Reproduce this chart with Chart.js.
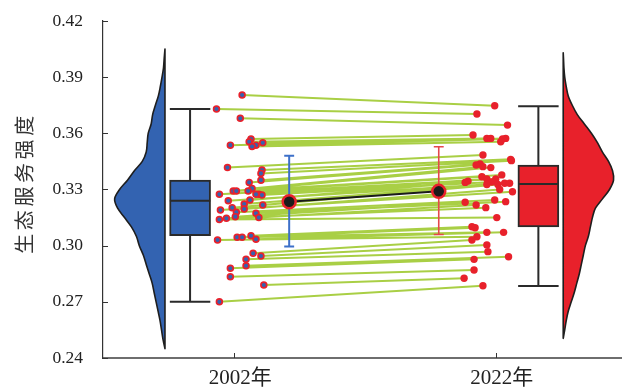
<!DOCTYPE html>
<html><head><meta charset="utf-8">
<script src="https://cdn.jsdelivr.net/npm/chart.js@4.4.1/dist/chart.umd.min.js"></script>
<style>html,body{margin:0;padding:0;background:#fff}canvas{display:block}</style>
</head><body>
<canvas id="c" width="630" height="390"></canvas>
<script>
// ---------- data ----------
const categories = ['2002年', '2022年'];
const yTicks = [0.24, 0.27, 0.30, 0.33, 0.36, 0.39, 0.42];
const yTitle = '生态服务强度';

// paired samples (sorted, same index = same unit)
const v2002 = [0.3805,0.373,0.368,0.357,0.3555,0.355,0.3537,0.3537,0.353,0.3417,0.3404,0.3386,0.335,0.3338,0.3306,0.3292,0.3292,0.3292,0.3275,0.3274,0.3274,0.327,0.3244,0.324,0.3222,0.3217,0.3203,0.3196,0.319,0.3178,0.3173,0.3155,0.315,0.3146,0.314,0.3053,0.3045,0.3045,0.3034,0.303,0.2959,0.2945,0.2927,0.2893,0.2879,0.2834,0.279,0.270];
const jit2002 = [0.030,-0.068,0.023,0.064,0.057,0.109,-0.015,0.083,0.068,-0.026,0.106,0.102,0.102,0.057,0.068,-0.004,0.008,0.053,0.094,-0.057,0.083,0.106,0.060,-0.023,0.038,0.109,-0.008,0.038,-0.053,0.008,0.083,0.004,0.094,-0.030,-0.057,0.064,0.011,0.030,0.083,-0.064,0.072,0.102,0.045,0.045,-0.015,-0.015,0.113,-0.057];
const v2022 = [0.3747,0.3703,0.3644,0.3591,0.3573,0.3573,0.3573,0.357,0.3555,0.3484,0.3461,0.3454,0.3436,0.3431,0.3422,0.3417,0.3378,0.3368,0.3356,0.3356,0.3345,0.334,0.3338,0.3333,0.3333,0.3327,0.3327,0.330,0.3288,0.3244,0.3235,0.3232,0.3217,0.3203,0.315,0.3101,0.3096,0.3071,0.3071,0.3048,0.303,0.3004,0.2968,0.2941,0.2927,0.287,0.2826,0.2786];
const jit2022 = [-0.004,-0.072,0.045,-0.087,-0.034,-0.019,0.038,0.026,0.019,-0.049,0.057,0.060,-0.060,-0.075,-0.049,-0.019,0.023,-0.053,-0.034,0.000,-0.106,-0.015,-0.117,0.034,0.053,-0.034,0.008,0.015,0.064,-0.004,0.038,-0.117,-0.075,-0.038,0.004,-0.091,-0.079,-0.034,0.030,-0.072,-0.091,-0.034,-0.030,0.049,-0.083,-0.083,-0.121,-0.049];

// box plot statistics [2002, 2022]
const boxQ1   = [0.3053, 0.310];
const boxMed  = [0.324, 0.333];
const boxQ3   = [0.335, 0.343];
const whiskLo = [0.270, 0.2785];
const whiskHi = [0.373, 0.3745];

// mean and error bar [2002, 2022]
const meanVal = [0.3235, 0.329];
const errLo   = [0.2995, 0.306];
const errHi   = [0.348, 0.3528];

// half-violin density outlines
const blueLevels  = [0.245,0.25,0.255,0.26,0.265,0.27,0.275,0.28,0.285,0.29,0.295,0.30,0.305,0.31,0.315,0.32,0.325,0.33,0.335,0.34,0.345,0.35,0.355,0.36,0.365,0.37,0.375,0.38,0.385,0.39,0.395,0.40,0.405];
const blueDensity = [0,2,3.5,5,7,9,11,13,16,19,22,26,29,34,41,48,51,46,38,31,23,19,18,17,14,12.5,9.7,6.7,4.7,3,1.5,0.8,0];
const redLevels   = [0.2505,0.255,0.26,0.265,0.27,0.275,0.28,0.285,0.29,0.295,0.30,0.305,0.31,0.315,0.32,0.325,0.33,0.335,0.34,0.345,0.35,0.355,0.36,0.365,0.37,0.375,0.38,0.385,0.39,0.395,0.40,0.403];
const redDensity  = [0,1.5,3,5,8,11,13.5,16,18,20,22,25,27,29,32,39,46,50,49,45,39,34,28,21,14,9,5,3,1.5,0.7,0.3,0];

// ---------- layout / style ----------
const catPos = [0, 1];
const XMIN = -0.502, XMAX = 1.479;
const OFF = { violin: [-0.265, 0.258], box: [-0.169, 0.163], mean: [0.210, -0.218] };
const VIOLIN_W = 0.1925, BOX_HALF = 0.0774, CAP_HALF = 0.019;
const BLUE = '#3363b1', RED = '#e8212b', DARK = '#2a2a2a', GREEN = '#a9cf45';
const SERIF = '"Liberation Serif","Noto Sans CJK SC",serif';

Chart.defaults.font.family = SERIF;
Chart.defaults.color = '#222';

function segs(list) {
  const out = [];
  list.forEach((s, i) => { if (i) out.push({ x: null, y: null }); out.push(...s); });
  return out;
}

const pairLines = segs(v2002.map((v, i) => [
  { x: catPos[0] + jit2002[i], y: v },
  { x: catPos[1] + jit2022[i], y: v2022[i] }
]));

const whiskerSegs = [];
[0, 1].forEach(k => {
  const cx = catPos[k] + OFF.box[k];
  whiskerSegs.push([{ x: cx, y: boxQ3[k] }, { x: cx, y: whiskHi[k] }]);
  whiskerSegs.push([{ x: cx - BOX_HALF, y: whiskHi[k] }, { x: cx + BOX_HALF, y: whiskHi[k] }]);
  whiskerSegs.push([{ x: cx, y: boxQ1[k] }, { x: cx, y: whiskLo[k] }]);
  whiskerSegs.push([{ x: cx - BOX_HALF, y: whiskLo[k] }, { x: cx + BOX_HALF, y: whiskLo[k] }]);
  whiskerSegs.push([{ x: cx - BOX_HALF, y: boxMed[k] }, { x: cx + BOX_HALF, y: boxMed[k] }]);
});

function errSegs(k) {
  const cx = catPos[k] + OFF.mean[k];
  return segs([
    [{ x: cx, y: errLo[k] }, { x: cx, y: errHi[k] }],
    [{ x: cx - CAP_HALF, y: errHi[k] }, { x: cx + CAP_HALF, y: errHi[k] }],
    [{ x: cx - CAP_HALF, y: errLo[k] }, { x: cx + CAP_HALF, y: errLo[k] }]
  ]);
}

const violinPlugin = {
  id: 'violin',
  beforeDatasetsDraw(chart) {
    const { ctx, scales: { x, y } } = chart;
    const draw = (base, levels, dens, color, dir) => {
      const maxD = Math.max(...dens);
      const bx = x.getPixelForValue(base);
      const wpx = x.getPixelForValue(base + VIOLIN_W) - bx;
      const pts = levels.map((l, i) => ({ px: bx + dir * dens[i] / maxD * wpx, py: y.getPixelForValue(l) }));
      ctx.save();
      ctx.beginPath();
      ctx.moveTo(pts[0].px, pts[0].py);
      for (let i = 0; i < pts.length - 1; i++) {
        const p0 = pts[Math.max(i - 1, 0)], p1 = pts[i], p2 = pts[i + 1], p3 = pts[Math.min(i + 2, pts.length - 1)];
        const t = 1 / 6;
        ctx.bezierCurveTo(p1.px + (p2.px - p0.px) * t, p1.py + (p2.py - p0.py) * t,
                          p2.px - (p3.px - p1.px) * t, p2.py - (p3.py - p1.py) * t, p2.px, p2.py);
      }
      ctx.closePath();
      ctx.fillStyle = color;
      ctx.fill();
      ctx.lineWidth = 1.6;
      ctx.strokeStyle = '#1e1e1e';
      ctx.lineJoin = 'round';
      ctx.stroke();
      ctx.restore();
    };
    draw(catPos[0] + OFF.violin[0], blueLevels, blueDensity, BLUE, -1);
    draw(catPos[1] + OFF.violin[1], redLevels, redDensity, RED, 1);
  }
};

const axisDecor = {
  id: 'axisDecor',
  afterDraw(chart) {
    const { ctx, chartArea: a, scales: { x, y } } = chart;
    ctx.save();
    ctx.strokeStyle = '#333';
    ctx.lineWidth = 1;
    yTicks.forEach(v => {
      const py = Math.round(y.getPixelForValue(v)) + 0.5;
      ctx.beginPath(); ctx.moveTo(a.left, py); ctx.lineTo(a.left + 5, py); ctx.stroke();
    });
    catPos.forEach(v => {
      const px = Math.round(x.getPixelForValue(v)) + 0.5;
      ctx.beginPath(); ctx.moveTo(px, a.bottom); ctx.lineTo(px, a.bottom - 5); ctx.stroke();
    });
    // y axis title
    ctx.translate(24, 183);
    ctx.rotate(-Math.PI / 2);
    ctx.font = '20px "Noto Sans CJK SC"';
    if ('letterSpacing' in ctx) ctx.letterSpacing = '3.6px';
    ctx.fillStyle = '#333';
    ctx.textAlign = 'center';
    ctx.textBaseline = 'middle';
    ctx.fillText(yTitle, 0, 0);
    ctx.restore();
  }
};

new Chart(document.getElementById('c'), {
  type: 'scatter',
  data: {
    datasets: [
      { // mean markers
        type: 'scatter', order: 1,
        data: [0, 1].map(k => ({ x: catPos[k] + OFF.mean[k], y: meanVal[k] })),
        pointRadius: 6.5, pointBorderWidth: 2.5, pointBorderColor: RED, pointBackgroundColor: '#1b1b1b'
      },
      { // line joining means
        type: 'scatter', order: 2, showLine: true,
        data: [0, 1].map(k => ({ x: catPos[k] + OFF.mean[k], y: meanVal[k] })),
        borderColor: '#1b1b1b', borderWidth: 2, pointRadius: 0
      },
      { type: 'scatter', order: 3, showLine: true, data: errSegs(0), borderColor: '#3d70c9', borderWidth: 2, pointRadius: 0 },
      { type: 'scatter', order: 3, showLine: true, data: errSegs(1), borderColor: '#e5474b', borderWidth: 1.6, pointRadius: 0 },
      { // 2002 samples
        type: 'scatter', order: 4,
        data: v2002.map((v, i) => ({ x: catPos[0] + jit2002[i], y: v })),
        pointRadius: 2.9, pointBorderWidth: 1.7, pointBorderColor: RED, pointBackgroundColor: BLUE
      },
      { // 2022 samples
        type: 'scatter', order: 4,
        data: v2022.map((v, i) => ({ x: catPos[1] + jit2022[i], y: v })),
        pointRadius: 3.7, pointBorderWidth: 0, pointBackgroundColor: RED
      },
      { // paired lines
        type: 'scatter', order: 5, showLine: true, data: pairLines,
        borderColor: GREEN, borderWidth: 2, pointRadius: 0
      },
      { // whiskers + medians
        type: 'scatter', order: 6, showLine: true, data: segs(whiskerSegs),
        borderColor: DARK, borderWidth: 2, pointRadius: 0
      },
      { // boxes
        type: 'bar', order: 7,
        data: [0, 1].map(k => ({ x: catPos[k] + OFF.box[k], y: [boxQ1[k], boxQ3[k]] })),
        backgroundColor: [BLUE, RED], borderColor: DARK, borderWidth: 2, borderSkipped: false,
        barThickness: 41, grouped: false
      }
    ]
  },
  options: {
    responsive: false,
    devicePixelRatio: 1,
    animation: false,
    layout: { padding: { top: 21, right: 2, left: 0, bottom: 0 } },
    plugins: { legend: { display: false }, tooltip: { enabled: false } },
    elements: { line: { tension: 0 } },
    scales: {
      x: {
        type: 'linear', min: XMIN, max: XMAX, offset: false,
        afterBuildTicks: ax => { ax.ticks = catPos.map(v => ({ value: v })); },
        ticks: { callback: v => categories[Math.round(v)], font: { size: 21, family: SERIF }, color: '#222', padding: 8, labelOffset: 6, maxRotation: 0, autoSkip: false },
        grid: { drawOnChartArea: false, drawTicks: false, offset: false },
        border: { color: '#6e6e6e', width: 2 },
        afterFit: s => { s.height = 32; s.paddingLeft = 0; s.paddingRight = 0; }
      },
      y: {
        type: 'linear', min: 0.24, max: 0.42,
        afterBuildTicks: ax => { ax.ticks = yTicks.map(v => ({ value: v })); },
        ticks: { callback: v => v.toFixed(2), font: { size: 17.5, family: SERIF }, color: '#222', padding: 20 },
        grid: { drawOnChartArea: false, drawTicks: false },
        border: { color: '#333', width: 1.2 },
        afterFit: s => { s.width = 103; s.paddingTop = 0; s.paddingBottom = 0; }
      }
    }
  },
  plugins: [violinPlugin, axisDecor]
});
</script>
</body></html>
